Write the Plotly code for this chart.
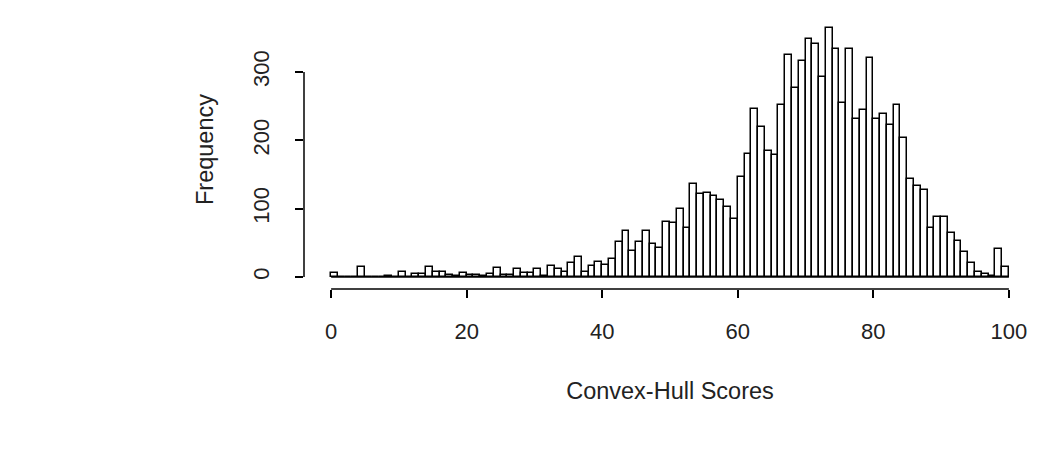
import plotly.graph_objects as go

bin_left = list(range(0, 100))
counts = [6, 0, 0, 0, 15, 0, 0, 0, 2, 0,
          8, 0, 4, 5, 14, 8, 8, 3, 1, 6,
          3, 3, 1, 4, 13, 3, 3, 11, 6, 6,
          11, 1, 16, 11, 7, 20, 29, 7, 16, 22,
          18, 27, 51, 67, 38, 51, 68, 48, 42, 80,
          79, 99, 72, 136, 121, 123, 118, 112, 103, 85,
          147, 180, 246, 220, 184, 178, 252, 325, 277, 316,
          349, 341, 292, 364, 333, 254, 333, 231, 244, 320,
          231, 239, 223, 252, 204, 144, 133, 127, 72, 88,
          88, 65, 52, 37, 21, 8, 4, 1, 41, 15]
x_ticks = [0, 20, 40, 60, 80, 100]
y_ticks = [0, 100, 200, 300]

W, H = 1039, 453
FONT = "Liberation Sans, Arial, sans-serif"

fig = go.Figure()
# zero-height bins drawn as baseline, like R's hist()
fig.add_trace(go.Scatter(
    x=[bin_left[0], bin_left[-1] + 1], y=[0, 0], mode="lines",
    line=dict(color="black", width=1.5), hoverinfo="skip", showlegend=False))
fig.add_trace(go.Bar(
    x=[b + 0.5 for b in bin_left], y=counts, width=1,
    marker=dict(color="white", line=dict(color="black", width=1.5)),
    showlegend=False))

fig.update_layout(
    width=W, height=H,
    margin=dict(l=304, r=3, t=10, b=164),
    paper_bgcolor="white", plot_bgcolor="white",
    bargap=0,
    font=dict(family=FONT, size=22, color="#222"),
    xaxis=dict(range=[-4, 104], showgrid=False, zeroline=False, showline=False,
               tickmode="array", tickvals=x_ticks, ticktext=[str(t) for t in x_ticks],
               ticks="outside", ticklen=8, tickwidth=1.5, tickcolor="black",
               ticklabelstandoff=15,
               tickfont=dict(size=22, family=FONT, color="#222"),
               title=dict(text="Convex-Hull Scores", standoff=39,
                          font=dict(size=23.5, family=FONT, color="#222"))),
    yaxis=dict(range=[-17.56, 390.7], showgrid=False, zeroline=False, showline=False,
               tickmode="array", tickvals=y_ticks, ticktext=[str(t) for t in y_ticks],
               ticks="outside", ticklen=8, tickwidth=1.5, tickcolor="black",
               tickangle=-90, ticklabelstandoff=17,
               tickfont=dict(size=22, family=FONT, color="#222"),
               title=dict(text="Frequency", standoff=28,
                          font=dict(size=23.5, family=FONT, color="#222"))),
    shapes=[
        dict(type="line", xref="x", yref="paper", x0=min(x_ticks), x1=max(x_ticks),
             y0=0, y1=0, line=dict(color="black", width=1.5)),
        dict(type="line", xref="paper", yref="y", x0=0, x1=0,
             y0=min(y_ticks), y1=max(y_ticks), line=dict(color="black", width=1.5)),
    ],
)

fig.write_html("out.html")
